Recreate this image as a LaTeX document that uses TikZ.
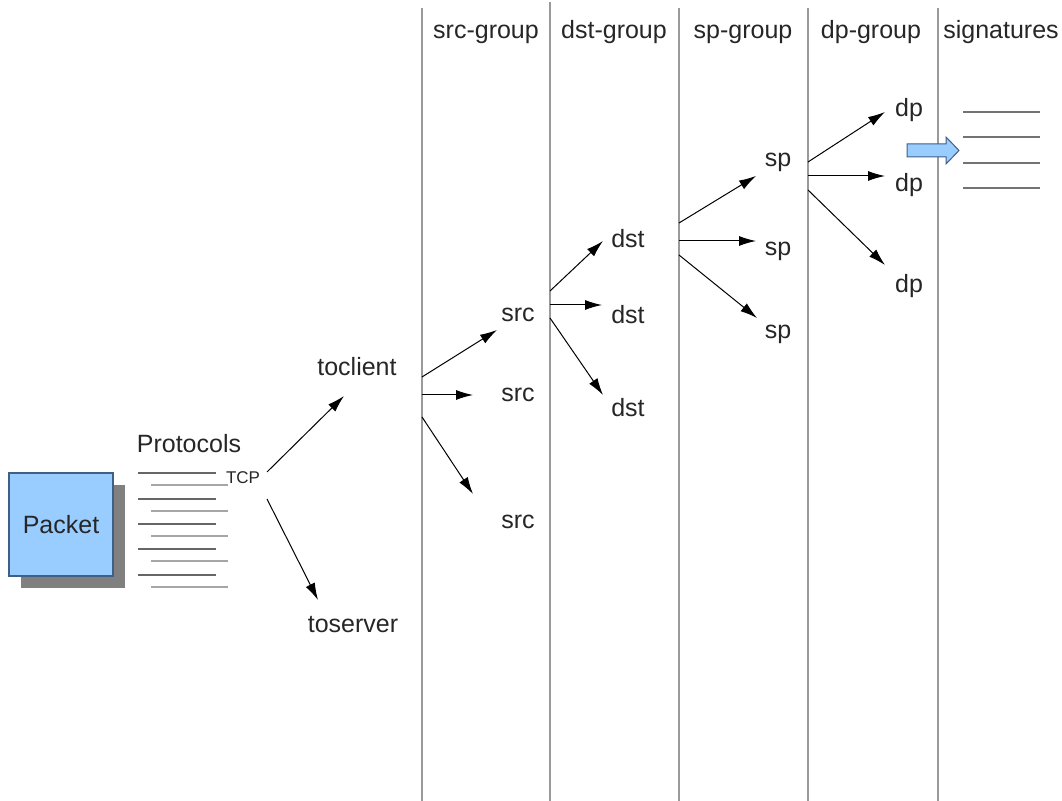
\documentclass[tikz,border=0pt]{standalone}
\usepackage{fontspec}
\setmainfont{Liberation Sans}
\usepackage{tikz}
\usetikzlibrary{calc}
\usetikzlibrary{arrows.meta}

\definecolor{pktblue}{HTML}{99CCFF}
\definecolor{pktedge}{HTML}{3F5F86}
\definecolor{grpline}{HTML}{9A9A9A}

\begin{document}
\begin{tikzpicture}[x=0.5pt, y=-0.5pt,
    every node/.style={font=\fontsize{12.5}{15}\selectfont, text=black!85},
    lbl/.style={inner sep=0pt},
    arr/.style={-{Latex[length=8.5pt,width=5pt]}, line width=0.5pt},
    grp/.style={draw=grpline, line width=0.8pt},
    protdark/.style={draw=black!60, line width=0.8pt},
    protlight/.style={draw=black!35, line width=0.8pt}]
				\useasboundingbox (0,0) rectangle (1062,801);
				
				% group columns
				\foreach \x in {422,679,808,938}
				\draw[grp] (\x,8) -- (\x,801);
				\draw[grp] (550,2) -- (550,801);
				
				\node[lbl, anchor=base] (hsrc) at (486,39) {src-group};
				\node[lbl, anchor=base] (hdst) at (614,39) {dst-group};
				\node[lbl, anchor=base] (hsp) at (743,39) {sp-group};
				\node[lbl, anchor=base] (hdp) at (871,39) {dp-group};
				\node[lbl, anchor=base] (hsig) at (1001,39) {signatures};
				
				% packet
				\fill[black!50] (21,485) rectangle (125,588);
				\node[draw=pktedge, fill=pktblue, line width=0.6pt, minimum width=52pt, minimum height=51.5pt, inner sep=0pt] (pkt) at (61,524.5) {Packet};
				
				\node[lbl] (prot) at (189,444) {Protocols};
				\foreach \y in {473,499,524,549,575}
				\draw[protdark] (138,\y) -- (216,\y);
				\foreach \y in {485,511,536,561,587}
				\draw[protlight] (151,\y) -- (228,\y);
				\node[lbl, font=\fontsize{8.5}{10}\selectfont] (tcp) at (243,478) {TCP};
				
				\node[lbl] (toclient) at (357,367) {toclient};
				\node[lbl] (toserver) at (353,625) {toserver};
				
				% labels per group
				\foreach \n/\t/\x/\y in {
					src1/src/518/315, src2/src/518/395, src3/src/518/522,
					dst1/dst/628/239, dst2/dst/628/315, dst3/dst/628/408,
					sp1/sp/778/162, sp2/sp/778/251, sp3/sp/778/334,
					dp1/dp/909/110, dp2/dp/909/185, dp3/dp/909/286
				}
				\node[lbl] (\n) at (\x,\y) {\t};
				
				% arrow start and end points
				\foreach \n/\x/\y in {
					ca/267/472, cb/267/499, ea/344/396, eb/318/600,
					s1/422/377, s2/422/395, s3/422/417,
					e1/497/330, e2/473/395, e3/473/494,
					t1/550/291, t2/550/305, t3/550/318,
					f1/603/241, f2/602/305, f3/603/395,
					u1/679/223, u2/679/241, u3/679/255,
					g1/756/176, g2/756/241, g3/757/318,
					v1/808/162, v2/808/176, v3/808/190,
					h1/885/112, h2/885/176, h3/885/265
				}
				\coordinate (\n) at (\x,\y);
				
				\foreach \a/\b in {ca/ea, cb/eb, s1/e1, s2/e2, s3/e3,
					t1/f1, t2/f2, t3/f3, u1/g1, u2/g2, u3/g3, v1/h1, v2/h2, v3/h3}
				\draw[arr] (\a) -- (\b);
				
				% to signatures
				\draw[draw=pktedge, fill=pktblue, line width=0.5pt]
				(907,144) -- (946,144) -- (946,137) -- (959,150.5) -- (946,164) -- (946,157) -- (907,157) -- cycle;
				\foreach \y in {112,137,163,188}
				\draw[draw=black!55, line width=0.7pt] (963,\y) -- (1040,\y);
			\end{tikzpicture}
\end{document}
